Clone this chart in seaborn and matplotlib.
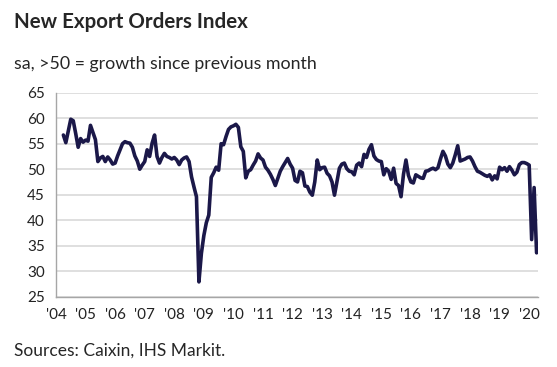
import numpy as np
import pandas as pd
import matplotlib
matplotlib.use("Agg")
import matplotlib.pyplot as plt
import seaborn as sns

# Monthly index values (Apr 2004 .. Apr 2020)
v2004 = [56.7, 55.2, 57.5, 59.8, 59.5, 57.0, 54.3, 56.0, 55.3]  # Apr-Dec
v2005 = [55.7, 55.5, 58.6, 57.2, 55.8, 51.5, 52.2, 52.5, 51.5, 52.4, 51.8, 51.0]
v2006 = [51.2, 52.6, 53.8, 55.0, 55.4, 55.2, 55.1, 54.3, 52.6, 51.6, 50.0, 50.8]
v2007 = [51.5, 53.8, 52.5, 55.1, 56.7, 52.5, 51.2, 52.3, 53.1, 52.5, 52.3, 52.0]
v2008 = [52.3, 51.8, 50.9, 51.8, 52.2, 52.4, 51.5, 48.5, 46.5, 44.6, 27.9, 33.5]
v2009 = [37.0, 39.5, 41.0, 48.4, 49.3, 50.4, 49.8, 55.0, 54.8, 56.4, 57.8, 58.3]
v2010 = [58.5, 58.8, 58.2, 54.4, 53.5, 48.3, 49.6, 49.9, 50.8, 51.6, 53.0, 52.2]
v2011 = [51.8, 50.4, 49.8, 49.0, 48.0, 46.8, 48.2, 49.6, 50.5, 51.3, 52.1, 51.0]
v2012 = [50.2, 47.8, 47.5, 49.6, 49.3, 46.7, 46.6, 45.5, 44.9, 47.5, 51.8, 49.9]
v2013 = [50.3, 50.4, 49.2, 48.7, 47.5, 44.9, 47.5, 50.2, 51.0, 51.2, 50.1, 49.6]
v2014 = [49.5, 48.9, 50.8, 51.2, 50.5, 52.9, 52.3, 53.9, 54.8, 52.6, 51.9, 51.6]
v2015 = [51.5, 48.9, 50.1, 49.6, 48.0, 50.2, 47.2, 46.8, 44.6, 49.0, 51.8, 48.8]
v2016 = [47.5, 47.3, 48.9, 48.6, 48.3, 48.2, 49.6, 49.7, 50.0, 50.2, 49.9, 50.3]
v2017 = [52.0, 53.5, 52.6, 51.0, 50.3, 51.2, 52.8, 54.6, 51.6, 51.8, 52.0, 52.3]
v2018 = [52.4, 51.6, 50.5, 49.6, 49.4, 49.1, 48.8, 48.6, 48.9, 47.9, 48.7, 48.1]
v2019 = [50.4, 49.9, 50.3, 49.6, 50.5, 49.8, 48.9, 49.4, 50.9, 51.3, 51.3, 51.1]
v2020 = [50.8, 36.2, 46.4, 33.6]  # Jan-Apr

years = list(range(2004, 2021))
year_labels = ["'" + str(y)[2:] for y in years]
y_ticks = [25, 30, 35, 40, 45, 50, 55, 60, 65]

values = (v2004 + v2005 + v2006 + v2007 + v2008 + v2009 + v2010 + v2011 + v2012
          + v2013 + v2014 + v2015 + v2016 + v2017 + v2018 + v2019 + v2020)
months = np.arange(len(values)) + 3  # months since Jan 2004, starting at April
df = pd.DataFrame({"t": 2004 + months / 12, "index": values})

sns.set_style("white")
plt.rcParams["font.family"] = ["Lato", "DejaVu Sans"]

fig = plt.figure(figsize=(5.57, 3.67), dpi=100)
ax = fig.add_axes([0.1005, 0.1916, 0.8655, 0.5558])

sns.lineplot(data=df, x="t", y="index", ax=ax, color="#1b1849", linewidth=2.6)

ax.set_xlim(2004, 2020.3)
ax.set_ylim(25, 65)
ax.set_xticks(years)
ax.set_xticklabels(year_labels)
ax.set_yticks(y_ticks)
ax.set_xlabel("")
ax.set_ylabel("")
ax.yaxis.grid(True, color="#d9d9d9", linewidth=1.2)
ax.set_axisbelow(True)
for side in ["top", "right"]:
    ax.spines[side].set_visible(False)
for side in ["left", "bottom"]:
    ax.spines[side].set_color("#a6a6a6")
    ax.spines[side].set_linewidth(1)
ax.tick_params(axis="both", which="both", direction="out", length=4, width=1,
               color="#a6a6a6", labelsize=11, labelcolor="#222222", pad=4)

fig.text(0.025, 0.94, "New Export Orders Index", fontsize=14.8, fontweight="bold",
         ha="left", va="center")
fig.text(0.025, 0.826, "sa, >50 = growth since previous month", fontsize=12.8,
         ha="left", va="center")
fig.text(0.025, 0.045, "Sources: Caixin, IHS Markit.", fontsize=12.5,
         ha="left", va="center")

fig.savefig("out.png", dpi=100)
plt.close(fig)
